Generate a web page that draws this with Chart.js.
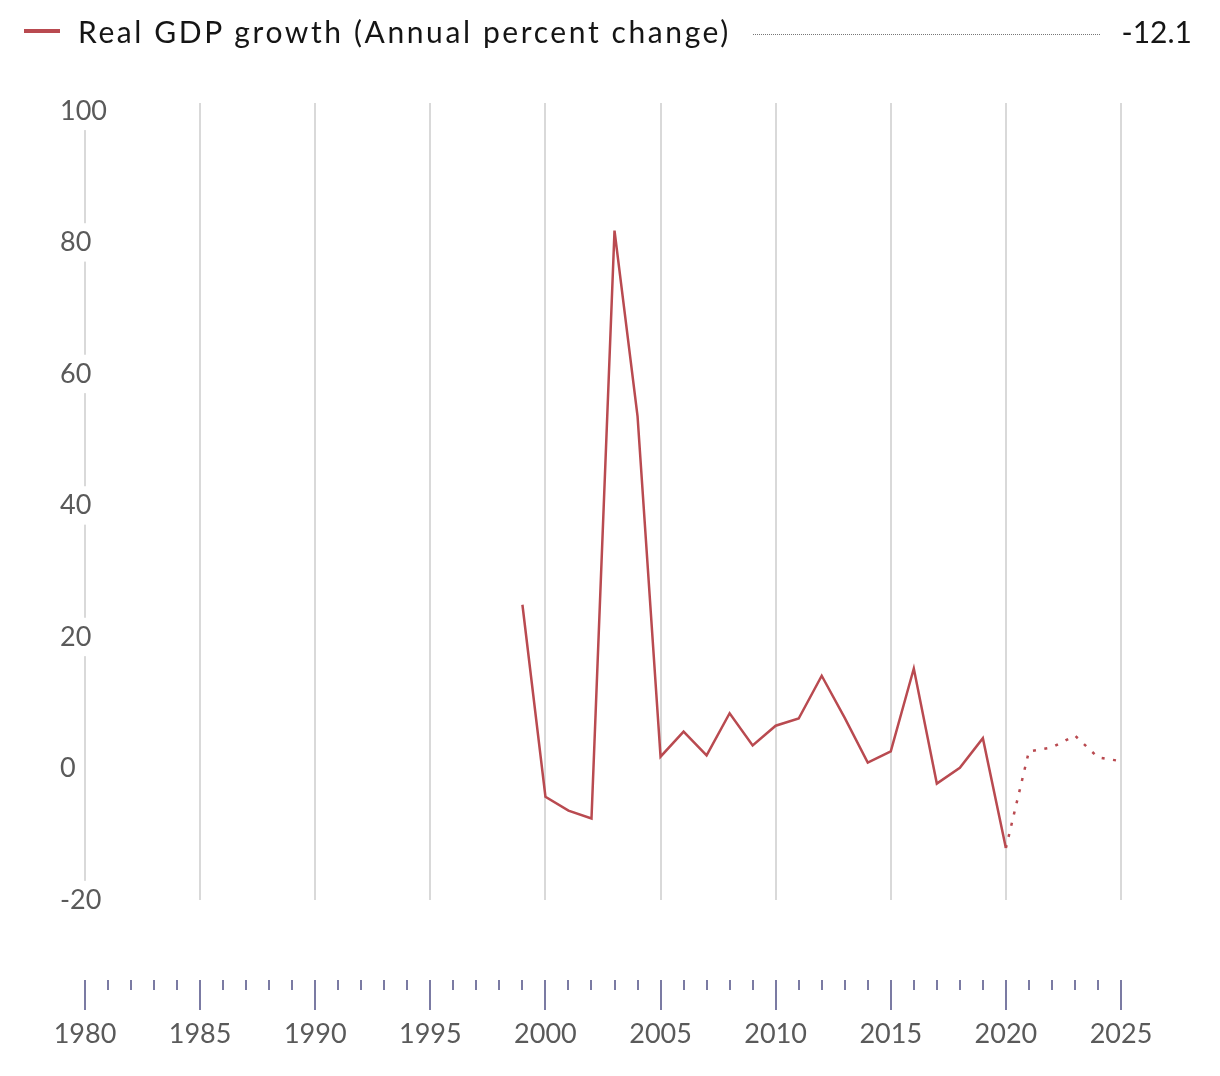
<!DOCTYPE html>
<html>
<head>
<meta charset="utf-8">
<script src="https://cdn.jsdelivr.net/npm/chart.js@4/dist/chart.umd.min.js"></script>
<style>
  html, body { margin: 0; padding: 0; background: #fff; }
  #wrap { position: relative; width: 1220px; height: 1076px; }
  #chart { position: absolute; left: 0; top: 0; }
  #legend {
    position: absolute; left: 24px; top: 10px; width: 1168px; height: 42px;
    display: flex; align-items: center;
    font-family: Lato, "Open Sans", sans-serif; font-size: 30px; color: #151515;
  }
  #legend-label { letter-spacing: 2.6px; }
  #legend .swatch { width: 36px; height: 4px; background: #b94a50; margin-right: 18px; }
  #legend .leader { flex: 1; border-bottom: 1px dotted #777; margin: 6px 22px 0 22px; }
</style>
</head>
<body>
<div id="wrap">
  <canvas id="chart" width="1220" height="1076"></canvas>
  <div id="legend">
    <span class="swatch"></span>
    <span id="legend-label"></span>
    <span class="leader"></span>
    <span id="legend-value"></span>
  </div>
</div>
<script>
// series data
const seriesName = 'Real GDP growth (Annual percent change)';
const years = [1999, 2000, 2001, 2002, 2003, 2004, 2005, 2006, 2007, 2008, 2009,
  2010, 2011, 2012, 2013, 2014, 2015, 2016, 2017, 2018, 2019, 2020,
  2021, 2022, 2023, 2024, 2025];
const gdpGrowth = [24.9, -4.3, -6.4, -7.6, 81.8, 53.6, 1.8, 5.6, 2.0, 8.4, 3.5,
  6.5, 7.6, 14.1, 7.7, 0.9, 2.6, 15.2, -2.3, 0.1, 4.6, -12.1,
  2.6, 3.2, 5.0, 1.7, 1.1];
const lastActualYear = 2020; // projections after this are dotted

// axis ticks
const yTickValues = [-20, 0, 20, 40, 60, 80, 100];
const xLabelYears = [1980, 1985, 1990, 1995, 2000, 2005, 2010, 2015, 2020, 2025];
const xMinorYears = [];
for (let y = 1980; y <= 2025; y++) xMinorYears.push(y);

const lineColor = '#b94a50';
const tickColor = '#7b7ba3';
const labelColor = '#5a5a5a';

document.getElementById('legend-label').textContent = seriesName;
document.getElementById('legend-value').textContent =
  gdpGrowth[years.indexOf(lastActualYear)].toFixed(1);

// year tick marks sit in a strip below the plot
const yearTicks = {
  id: 'yearTicks',
  afterDraw(chart) {
    const xs = chart.scales.x;
    const c = chart.ctx;
    const top = chart.chartArea.bottom + 80;
    c.save();
    c.strokeStyle = tickColor;
    c.lineWidth = 2;
    xMinorYears.forEach((yr) => {
      const px = Math.round(xs.getPixelForValue(yr));
      const major = xLabelYears.includes(yr);
      c.beginPath();
      c.moveTo(px, top);
      c.lineTo(px, top + (major ? 30 : 10));
      c.stroke();
    });
    c.restore();
  }
};

new Chart(document.getElementById('chart'), {
  type: 'line',
  data: {
    datasets: [{
      label: seriesName,
      data: years.map((yr, i) => ({ x: yr, y: gdpGrowth[i] })),
      borderColor: lineColor,
      borderWidth: 2.5,
      pointRadius: 0,
      tension: 0,
      segment: {
        borderDash: (ctx) => ctx.p0.parsed.x >= lastActualYear ? [3, 8.5] : undefined
      }
    }]
  },
  options: {
    responsive: false,
    animation: false,
    layout: { padding: { top: 103, right: 99, left: 0, bottom: 0 } },
    plugins: { legend: { display: false }, tooltip: { enabled: false } },
    scales: {
      x: {
        type: 'linear',
        min: 1980,
        max: 2025,
        afterFit: (s) => { s.height = 176; s.paddingLeft = 0; s.paddingRight = 0; },
        afterBuildTicks: (s) => { s.ticks = xLabelYears.map((v) => ({ value: v })); },
        grid: { color: '#d9d9d9', lineWidth: 2, drawTicks: false },
        border: { display: false },
        ticks: {
          padding: 118,
          color: labelColor,
          font: { family: 'Lato', size: 27 },
          autoSkip: false,
          maxRotation: 0,
          callback: (v) => String(v)
        }
      },
      y: {
        min: -20,
        max: 101.2,
        afterFit: (s) => { s.width = 85; },
        afterBuildTicks: (s) => { s.ticks = yTickValues.map((v) => ({ value: v })); },
        grid: { display: false },
        border: { display: false },
        ticks: {
          mirror: true,
          padding: -25,
          z: 1,
          color: labelColor,
          font: { family: 'Lato', size: 27 },
          showLabelBackdrop: true,
          backdropColor: '#fff',
          backdropPadding: { top: 3, bottom: 3, left: 3, right: 3 },
          callback: (v) => String(v)
        }
      }
    }
  },
  plugins: [yearTicks]
});
</script>
</body>
</html>
